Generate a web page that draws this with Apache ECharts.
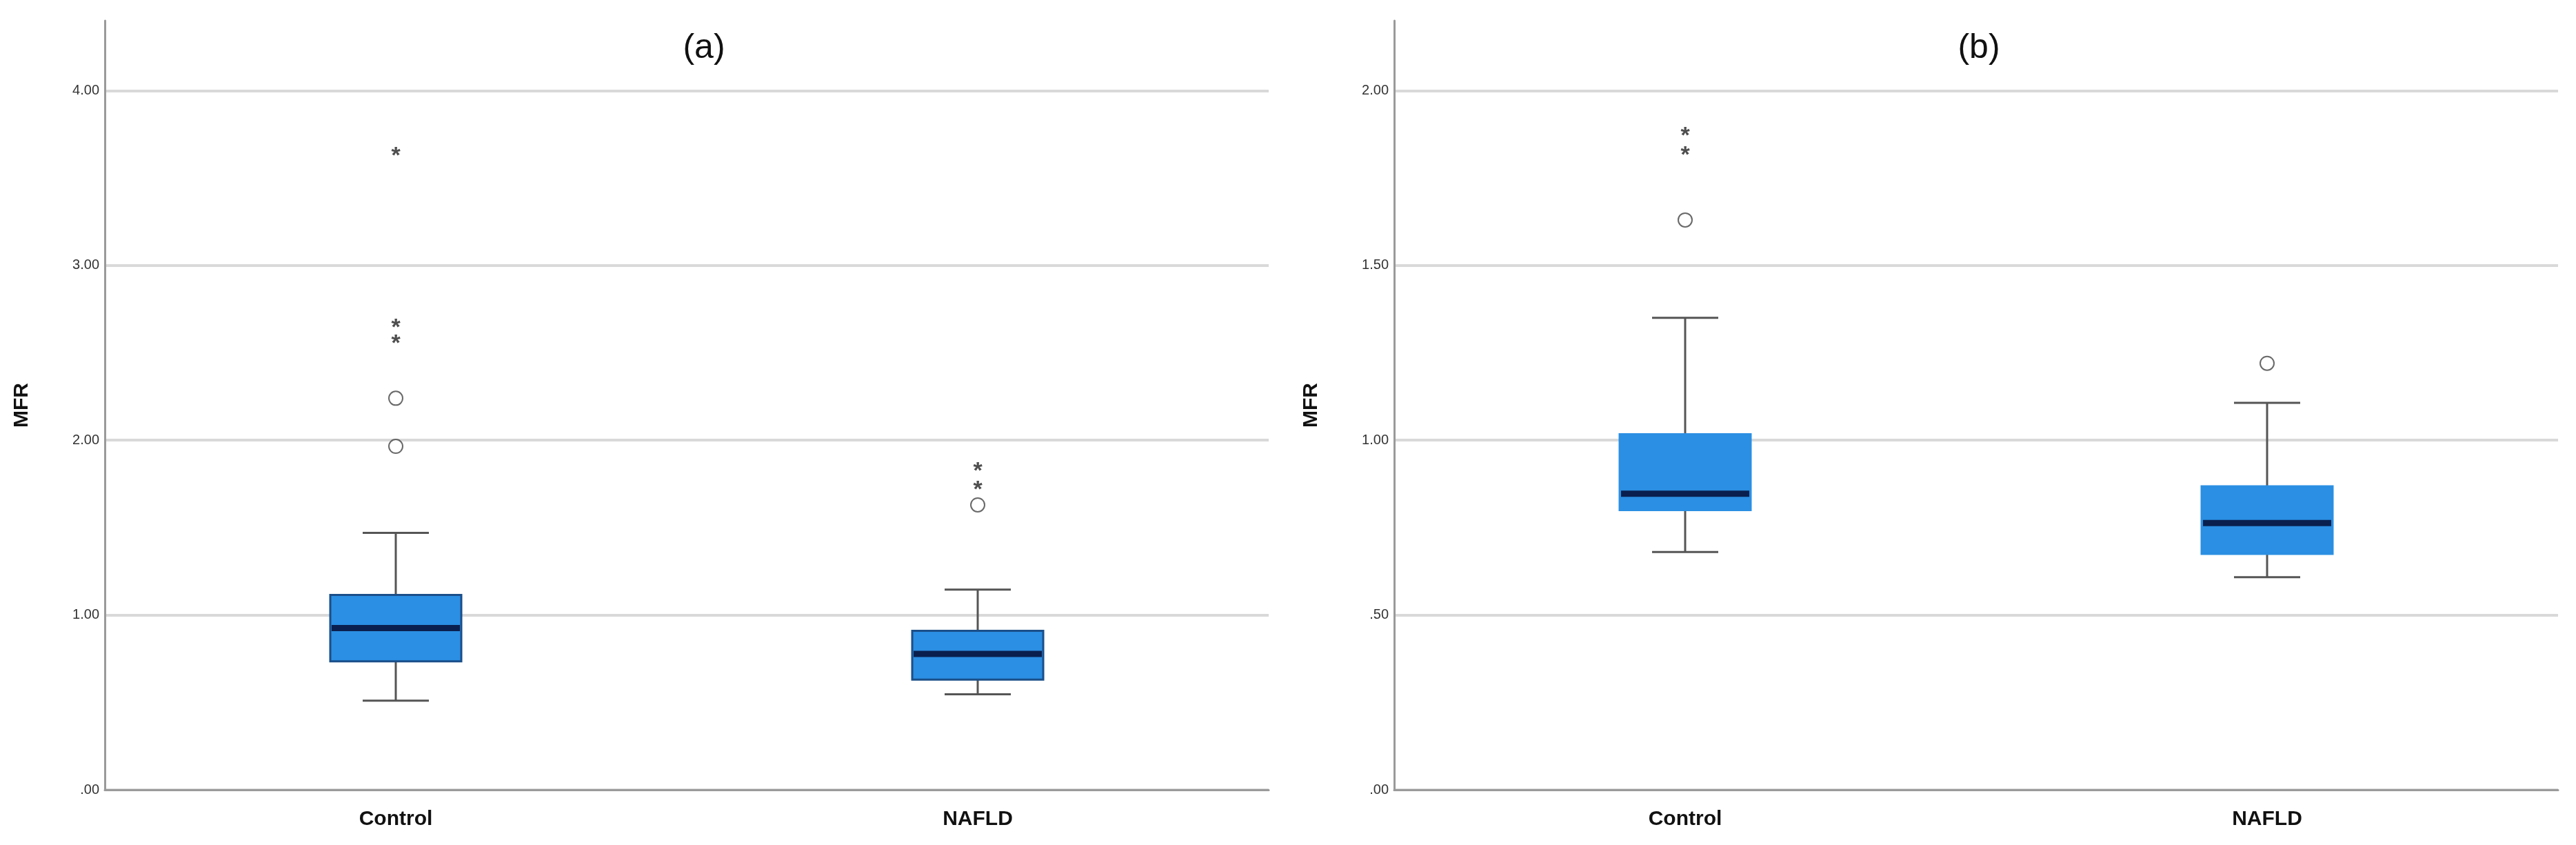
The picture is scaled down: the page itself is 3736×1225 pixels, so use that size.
<!DOCTYPE html>
<html><head><meta charset="utf-8">
<script src="https://cdn.jsdelivr.net/npm/echarts@6/dist/echarts.min.js"></script>
<style>html,body{margin:0;padding:0;background:#fff}#c{width:3736px;height:1225px}</style>
</head><body><div id="c"></div>
<script>
const categories = ['Control', 'NAFLD'];
const titles = ['(a)', '(b)'];
// [min, Q1, median, Q3, max]
const boxA = [[0.51, 0.735, 0.925, 1.115, 1.47], [0.547, 0.63, 0.777, 0.91, 1.145]];
const circlesA = [[0, 1.965], [0, 2.24], [1, 1.63]];
const starsA = [[0, 2.58], [0, 2.67], [0, 3.65], [1, 1.74], [1, 1.85]];
const boxB = [[0.68, 0.80, 0.847, 1.017, 1.35], [0.608, 0.675, 0.763, 0.868, 1.107]];
const circlesB = [[0, 1.63], [1, 1.22]];
const starsB = [[0, 1.827], [0, 1.884]];
const yMax = [4.4, 2.2], yInterval = [1, 0.5];

const grids = [{left:152, width:1688, top:30, bottom:80}, {left:2022, width:1688, top:30, bottom:80}];
const fmt = v => { let s = v.toFixed(2); return s.startsWith('0') ? s.slice(1) : s; };
const FONT = 'Liberation Sans';
const xAxes = [], yAxes = [], series = [];
[[boxA, circlesA, starsA], [boxB, circlesB, starsB]].forEach((d, i) => {
  xAxes.push({type:'category', gridIndex:i, data:categories, axisTick:{show:false},
    axisLine:{lineStyle:{color:'#9a9a9a', width:3}},
    axisLabel:{color:'#111', fontSize:30, fontWeight:'bold', fontFamily:FONT, margin:28}});
  yAxes.push({type:'value', gridIndex:i, min:0, max:yMax[i], interval:yInterval[i],
    name:'MFR', nameLocation:'middle', nameGap:105, nameRotate:90,
    nameTextStyle:{fontSize:30, fontWeight:'bold', color:'#111', fontFamily:FONT},
    axisLine:{show:true, lineStyle:{color:'#9a9a9a', width:3}}, axisTick:{show:false},
    axisLabel:{color:'#333', fontSize:20, fontFamily:FONT, margin:8,
      formatter: v => Math.abs(v - yMax[i]) < 1e-9 ? '' : fmt(v)},
    splitLine:{lineStyle:{color:['#d9d9d9','#d9d9d9','#d9d9d9','#d9d9d9','#d9d9d9','rgba(0,0,0,0)'], width:4}}});
  const border = i === 0 ? '#1a4f8a' : '#2b8fe3';
  series.push({type:'custom', xAxisIndex:i, yAxisIndex:i, data:d[0].map((b,k)=>[k].concat(b)), z:4,
    renderItem:(p, api) => {
      const x = api.value(0);
      const c = api.coord([x, api.value(3)]);
      const lo = api.coord([x, api.value(1)]), q1 = api.coord([x, api.value(2)]);
      const q3 = api.coord([x, api.value(4)]), hi = api.coord([x, api.value(5)]);
      const hw = 95, cw = 48;
      const st = {stroke:'#555', lineWidth:3};
      return {type:'group', children:[
        {type:'line', shape:{x1:c[0], y1:lo[1], x2:c[0], y2:q1[1]}, style:st},
        {type:'line', shape:{x1:c[0], y1:q3[1], x2:c[0], y2:hi[1]}, style:st},
        {type:'line', shape:{x1:c[0]-cw, y1:lo[1], x2:c[0]+cw, y2:lo[1]}, style:st},
        {type:'line', shape:{x1:c[0]-cw, y1:hi[1], x2:c[0]+cw, y2:hi[1]}, style:st},
        {type:'rect', shape:{x:c[0]-hw, y:q3[1], width:2*hw, height:q1[1]-q3[1]},
          style:{fill:'#2b8fe3', stroke:border, lineWidth:3}},
        {type:'line', shape:{x1:c[0]-hw+2, y1:c[1], x2:c[0]+hw-2, y2:c[1]}, style:{stroke:'#0a1f4e', lineWidth:9}}
      ]};
    }});
  series.push({type:'scatter', xAxisIndex:i, yAxisIndex:i, data:d[1], symbol:'emptyCircle', symbolSize:20,
    itemStyle:{color:'#444', borderWidth:2}, z:5});
  series.push({type:'scatter', xAxisIndex:i, yAxisIndex:i, data:d[2], symbolSize:1, itemStyle:{color:'rgba(0,0,0,0)'}, z:5,
    label:{show:true, position:'inside', formatter:'*', fontSize:34, fontWeight:'bold', color:'#222', offset:[0,7]}});
});
const chart = echarts.init(document.getElementById('c'));
chart.setOption({
  animation:false,
  title:[{text:titles[0], left:1016, top:40, textAlign:'center', textStyle:{fontSize:50, fontWeight:'normal', color:'#111', fontFamily:FONT}},
         {text:titles[1], left:2865, top:40, textAlign:'center', textStyle:{fontSize:50, fontWeight:'normal', color:'#111', fontFamily:FONT}}],
  grid:grids, xAxis:xAxes, yAxis:yAxes, series:series
});
</script></body></html>
